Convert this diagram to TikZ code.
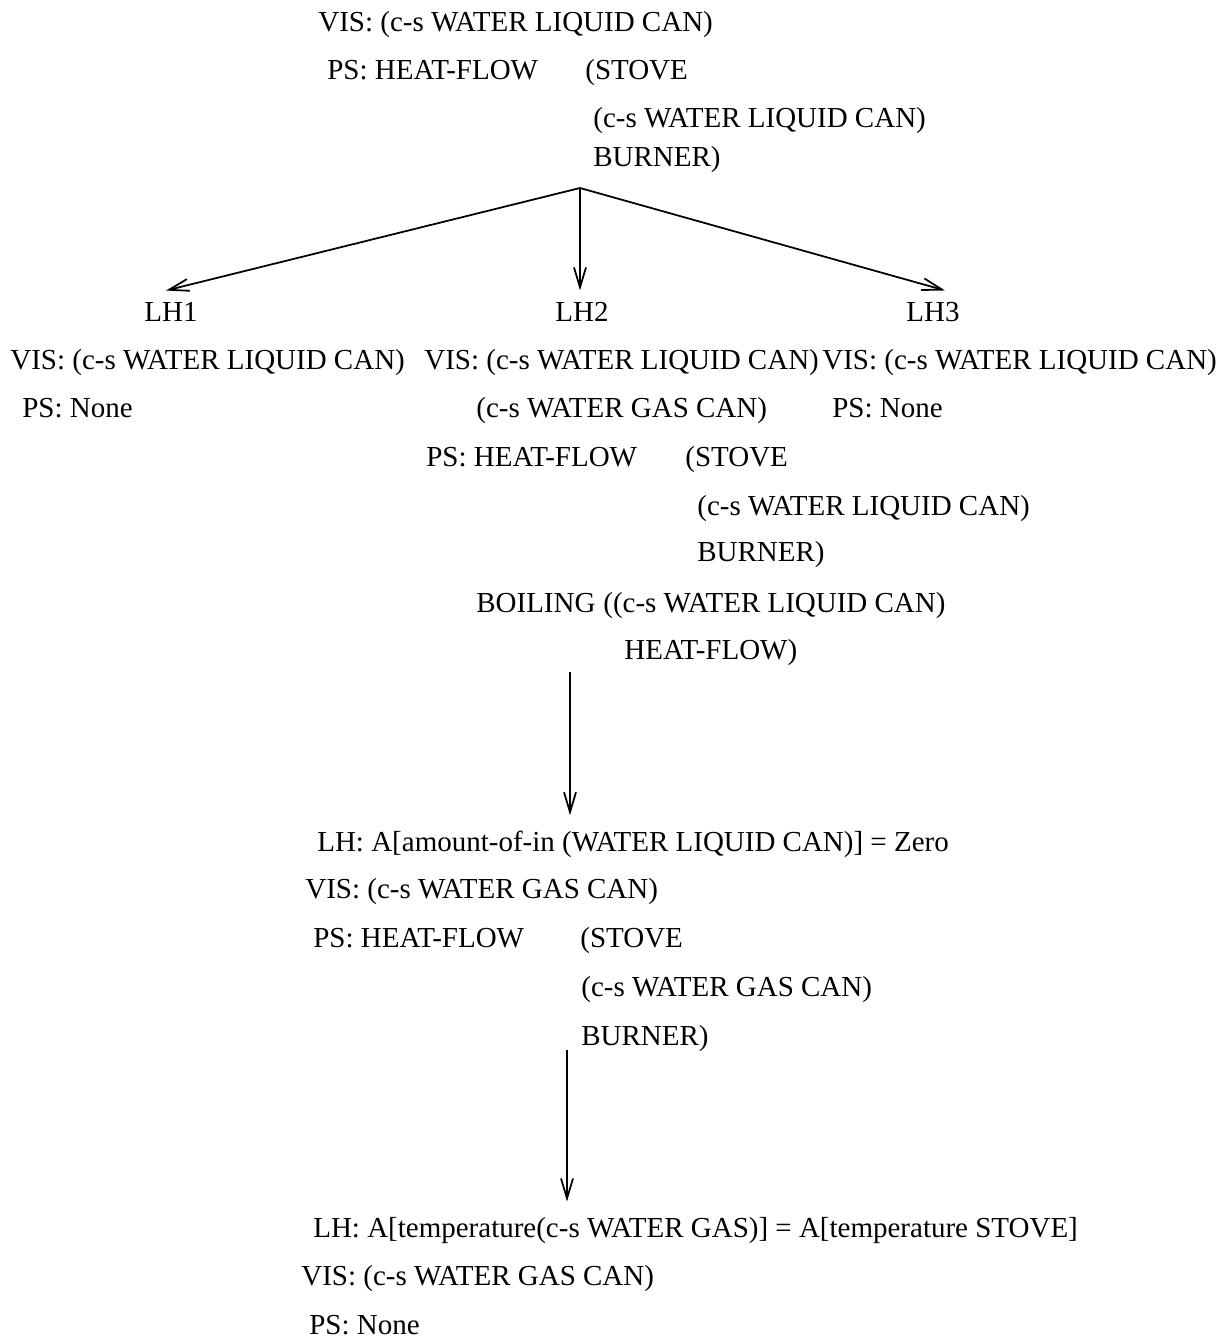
\documentclass[tikz,border=0pt]{standalone}
\usepackage{fontspec}
\setmainfont{Liberation Serif}
\usetikzlibrary{arrows.meta}
\tikzset{
  txt/.style={anchor=base west, inner sep=0pt, font=\fontsize{16.5}{20}\selectfont},
  lhlabel/.style={txt, anchor=base},
  flow/.style={line width=1pt, -{Straight Barb[length=4mm,width=2.4mm]}},
}
\begin{document}
\begin{tikzpicture}[x=0.02cm, y=-0.02cm]
\useasboundingbox (0,0) rectangle (1228,1343);

% initial state
\node[txt] (vis0) at (318,31) {VIS: (c-s WATER LIQUID CAN)};
\node[txt] (ps0) at (327,79) {PS: HEAT-FLOW};
\node[txt] (stove0) at (585,79) {(STOVE};
\node[txt] (arg0) at (593,127) {(c-s WATER LIQUID CAN)};
\node[txt] (burn0) at (593,166) {BURNER)};
\coordinate (split) at (580,188);

% three local hypotheses
\node[lhlabel] (lh1) at (171,321) {LH1};
\node[lhlabel] (lh2) at (582,321) {LH2};
\node[lhlabel] (lh3) at (933,321) {LH3};

\draw[flow] (split) -- ([yshift=2.2mm,xshift=-1mm]lh1.north);
\draw[flow] (split) -- ([yshift=2.2mm]lh2.north -| split);
\draw[flow] (split) -- ([yshift=2.2mm,xshift=2.4mm]lh3.north);

% LH1
\node[txt] (vis1) at (10,369) {VIS: (c-s WATER LIQUID CAN)};
\node[txt] (ps1) at (22,417) {PS: None};

% LH2
\node[txt] (vis2) at (424,369) {VIS: (c-s WATER LIQUID CAN)};
\node[txt] (vis2b) at (476,417) {(c-s WATER GAS CAN)};
\node[txt] (ps2) at (426,466) {PS: HEAT-FLOW};
\node[txt] (stove2) at (685,466) {(STOVE};
\node[txt] (arg2) at (697,515) {(c-s WATER LIQUID CAN)};
\node[txt] (burn2) at (697,561) {BURNER)};
\node[txt] (boil2) at (476,612) {BOILING};
\node[txt] (barg2) at (603,612) {((c-s WATER LIQUID CAN)};
\node[txt] (bhf2) at (624,659) {HEAT-FLOW)};

% LH3
\node[txt] (vis3) at (822,369) {VIS: (c-s WATER LIQUID CAN)};
\node[txt] (ps3) at (832,417) {PS: None};

% after boiling
\coordinate (d1) at (570,672);
\node[txt] (lhA) at (317,851) {LH: A[amount-of-in (WATER LIQUID CAN)] = Zero};
\node[txt] (visA) at (305,898) {VIS: (c-s WATER GAS CAN)};
\node[txt] (psA) at (313,947) {PS: HEAT-FLOW};
\node[txt] (stoveA) at (580,947) {(STOVE};
\node[txt] (argA) at (581,996) {(c-s WATER GAS CAN)};
\node[txt] (burnA) at (581,1045) {BURNER)};
\draw[flow] (d1) -- ([yshift=3mm]lhA.north -| d1);

% after heating
\coordinate (d2) at (567,1050);
\node[txt] (lhB) at (313,1237) {LH: A[temperature(c-s WATER GAS)] = A[temperature STOVE]};
\node[txt] (visB) at (301,1285) {VIS: (c-s WATER GAS CAN)};
\node[txt] (psB) at (309,1334) {PS: None};
\draw[flow] (d2) -- ([yshift=3mm]lhB.north -| d2);
\end{tikzpicture}
\end{document}
